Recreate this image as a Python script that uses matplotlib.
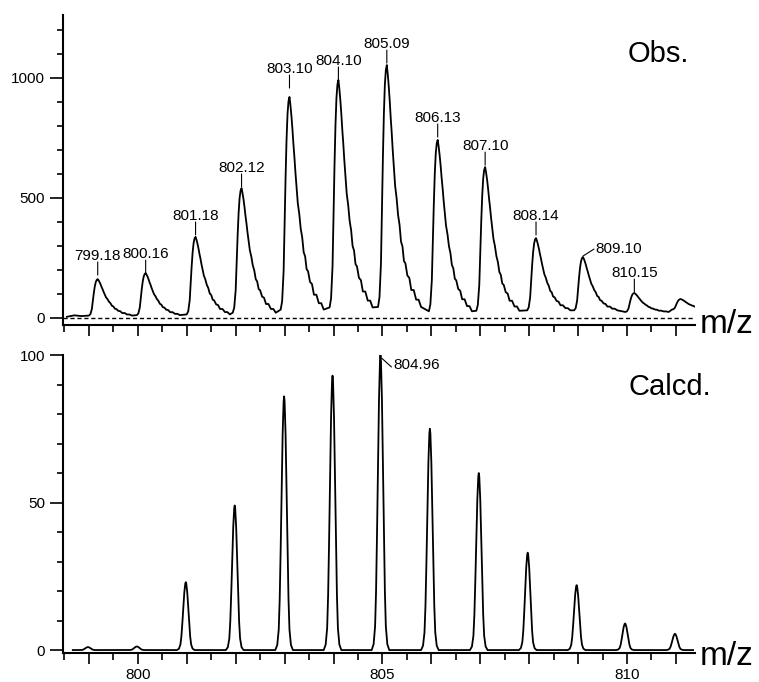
import matplotlib
matplotlib.use("Agg")
import matplotlib.pyplot as plt
from matplotlib.ticker import MultipleLocator, FuncFormatter

plt.rcParams['font.family'] = ['Liberation Sans', 'DejaVu Sans']

# Observed isotope envelope: apex m/z, apex intensity, local baseline
obs_mz = [799.18, 800.16, 801.18, 802.12, 803.10, 804.10, 805.09,
          806.13, 807.10, 808.14, 809.10, 810.15, 811.10]
obs_int = [162, 187, 338, 541, 921, 992, 1054, 742, 629, 333, 254, 104, 79]
obs_base = [10, 12, 15, 22, 35, 44, 46, 28, 30, 32, 32, 25, 35]
obs_labels = ["799.18", "800.16", "801.18", "802.12", "803.10", "804.10", "805.09",
              "806.13", "807.10", "808.14", "809.10", "810.15", ""]
obs_label_level = [179, 187, 346, 546, 958, 992, 1062, 754, 637, 346, 258, 108, 0]

# peak profile of the observed trace (offset from apex, fraction of apex height)
obs_shape_dx = [-0.18, -0.15, -0.12, -0.10, -0.08, -0.06, -0.04, -0.02, 0.0,
                0.02, 0.04, 0.06, 0.08, 0.10, 0.12, 0.14, 0.17, 0.20, 0.23,
                0.26, 0.29, 0.32, 0.35, 0.38, 0.42, 0.46, 0.50, 0.55, 0.60,
                0.65, 0.70]
obs_shape_f = [0.0, 0.04, 0.18, 0.40, 0.62, 0.80, 0.92, 0.98, 1.0,
               0.96, 0.91, 0.85, 0.78, 0.72, 0.65, 0.59, 0.50, 0.45, 0.38,
               0.34, 0.27, 0.25, 0.19, 0.18, 0.13, 0.12, 0.07, 0.07, 0.03,
               0.03, 0.0]

# Calculated isotope pattern
calc_mz = [798.98, 799.98, 800.98, 801.98, 802.99, 803.98, 804.96,
           805.97, 806.97, 807.97, 808.97, 809.96, 810.98]
calc_int = [1.0, 1.2, 23, 49, 86, 93, 100, 75, 60, 33, 22, 9, 5.5]

calc_shape_dx = [-0.18, -0.14, -0.11, -0.09, -0.07, -0.05, -0.03, -0.01, 0.0,
                 0.01, 0.03, 0.05, 0.07, 0.09, 0.11, 0.14, 0.18]
calc_shape_f = [0.0, 0.02, 0.08, 0.2, 0.4, 0.63, 0.85, 0.98, 1.0,
                0.98, 0.85, 0.63, 0.4, 0.2, 0.08, 0.02, 0.0]

x_min, x_max = 798.47, 811.39


def build_obs():
    xs, ys = [798.55, 798.7, 798.85], [5, 11, 8]
    for mz, h, b in zip(obs_mz, obs_int, obs_base):
        for dx, f in zip(obs_shape_dx, obs_shape_f):
            xs.append(mz + dx)
            ys.append(b + f * (h - b))
    return xs, ys


def build_calc():
    xs, ys = [798.67], [0.0]
    for mz, h in zip(calc_mz, calc_int):
        for dx, f in zip(calc_shape_dx, calc_shape_f):
            xs.append(mz + dx)
            ys.append(f * h)
    xs.append(811.35)
    ys.append(0.0)
    return xs, ys


def style_axis(ax, show_labels):
    for s in ["top", "right"]:
        ax.spines[s].set_visible(False)
    for s in ["left", "bottom"]:
        ax.spines[s].set_linewidth(1.5)
    ax.set_xlim(x_min, x_max)
    ax.xaxis.set_major_locator(MultipleLocator(1))
    ax.xaxis.set_minor_locator(MultipleLocator(0.5))
    ax.xaxis.set_major_formatter(
        FuncFormatter(lambda v, p: f"{v:.0f}" if round(v) % 5 == 0 else ""))
    ax.tick_params(axis="x", which="major", length=8, width=1.2, pad=3,
                   labelsize=11, labelbottom=show_labels)
    ax.tick_params(axis="x", which="minor", length=5, width=1.2)
    ax.tick_params(axis="y", which="major", length=9.5, width=1.2, pad=3.5,
                   labelsize=11)
    ax.tick_params(axis="y", which="minor", length=4.5, width=1.2)


fig = plt.figure(figsize=(7.59, 6.82), dpi=100)
W, H = 759, 682
ax1 = fig.add_axes([63 / W, 1 - 325 / H, (695 - 63) / W, (325 - 15) / H])
ax2 = fig.add_axes([63 / W, 1 - 653 / H, (695 - 63) / W, (653 - 355) / H])

# top: observed
ox, oy = build_obs()
ax1.plot(ox, oy, color="black", lw=1.3)
ax1.axhline(0, color="black", lw=1.0, ls=(0, (3, 2)))
ax1.set_ylim(-29.2, 1262.5)
ax1.yaxis.set_major_locator(MultipleLocator(500))
ax1.yaxis.set_minor_locator(MultipleLocator(100))
style_axis(ax1, False)

for mz, lab, lvl in zip(obs_mz, obs_labels, obs_label_level):
    if not lab:
        continue
    if lab == "809.10":
        ax1.annotate("", xy=(mz, lvl), xytext=(11, 7), textcoords="offset pixels",
                     arrowprops=dict(arrowstyle="-", lw=0.8, shrinkA=0, shrinkB=0))
        ax1.annotate(lab, xy=(mz, lvl), xytext=(12, 3), textcoords="offset pixels",
                     ha="left", va="baseline", fontsize=11)
    else:
        ax1.annotate("", xy=(mz, lvl), xytext=(0, 13), textcoords="offset pixels",
                     arrowprops=dict(arrowstyle="-", lw=0.8, shrinkA=0, shrinkB=0))
        ax1.annotate(lab, xy=(mz, lvl), xytext=(0, 15), textcoords="offset pixels",
                     ha="center", va="baseline", fontsize=11)

# bottom: calculated
cx, cy = build_calc()
ax2.plot(cx, cy, color="black", lw=1.3)
ax2.set_ylim(-1.0, 100)
ax2.yaxis.set_major_locator(MultipleLocator(50))
ax2.yaxis.set_minor_locator(MultipleLocator(10))
style_axis(ax2, True)

ax2.annotate("", xy=(804.98, 99), xytext=(10, -9), textcoords="offset pixels",
             arrowprops=dict(arrowstyle="-", lw=0.8, shrinkA=0, shrinkB=0))
ax2.annotate("804.96", xy=(804.98, 99), xytext=(12, -11.5), textcoords="offset pixels",
             ha="left", va="baseline", fontsize=11)

fig.text(658 / W, 1 - 54 / H, "Obs.", ha="center", va="center", fontsize=21)
fig.text(670 / W, 1 - 387 / H, "Calcd.", ha="center", va="center", fontsize=21)
fig.text(700 / W, 1 - 333 / H, "m/z", ha="left", va="baseline", fontsize=24)
fig.text(700 / W, 1 - 665 / H, "m/z", ha="left", va="baseline", fontsize=24)

fig.savefig("out.png", dpi=100)
